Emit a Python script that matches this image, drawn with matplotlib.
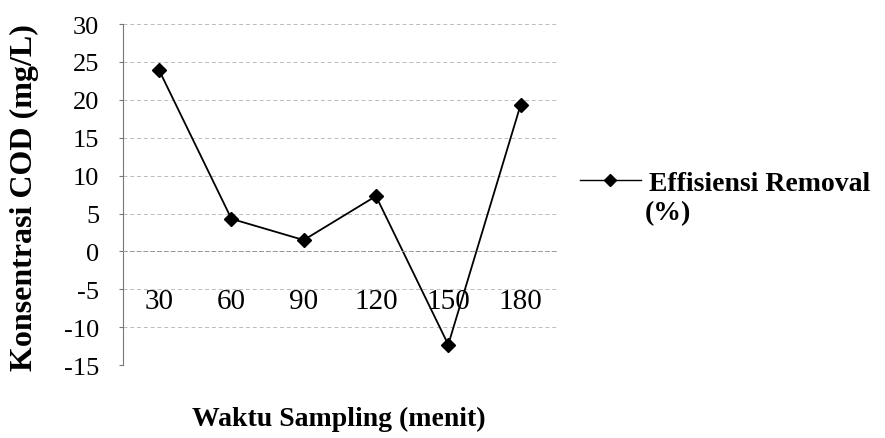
import numpy as np
import matplotlib.pyplot as plt

plt.rcParams['font.family'] = ['Liberation Serif', 'DejaVu Serif']

waktu = ['30', '60', '90', '120', '150', '180']
efisiensi = [23.9, 4.3, 1.5, 7.3, -12.3, 19.3]
yticks = [-15, -10, -5, 0, 5, 10, 15, 20, 25, 30]

fig = plt.figure(figsize=(8.85, 4.39), dpi=100)
ax = fig.add_axes([0.139, 0.166, 0.490, 0.777])

x = np.arange(len(waktu))
line, = ax.plot(x, efisiensi, color='black', lw=1.3, marker='D', ms=7,
                markerfacecolor='black', markeredgecolor='black')

# the category axis sits on y = 0
ax.spines['bottom'].set_position(('data', 0))

ax.set_xlim(-0.5, len(waktu) - 0.5)
ax.set_ylim(-15, 30)
ax.set_yticks(yticks)
ax.set_yticklabels([str(v) for v in yticks])
ax.set_xticks(x)
ax.set_xticklabels(waktu)

# horizontal gridlines, faint and dashed
ax.yaxis.grid(True, color='#bbbbbb', lw=0.7, ls=(0, (4, 3)))
ax.set_axisbelow(True)

for s in ['top', 'right']:
    ax.spines[s].set_visible(False)
ax.spines['left'].set_color('#777777')
ax.spines['left'].set_linewidth(0.8)
ax.spines['bottom'].set_color('#999999')
ax.spines['bottom'].set_linewidth(0.7)
ax.spines['bottom'].set_linestyle((0, (4, 3)))

ax.tick_params(axis='y', length=3, color='#777777', pad=14, labelsize=19)
ax.tick_params(axis='x', length=0, pad=26, labelsize=21)

fig.text(0.028, 0.55, 'Konsentrasi COD (mg/L)', rotation=90, fontsize=23,
         fontweight='bold', ha='center', va='center')
fig.text(0.383, 0.045, 'Waktu Sampling (menit)', fontsize=20,
         fontweight='bold', ha='center', va='center')

leg = fig.legend([line], ['Effisiensi Removal'], loc='center left',
                 bbox_to_anchor=(0.655, 1 - 184 / 439), frameon=False,
                 prop={'size': 20, 'weight': 'bold'}, handlelength=2.2,
                 handletextpad=0.3, borderpad=0, borderaxespad=0)
for h in leg.legend_handles:
    h.set_markersize(6)
    h.set_linewidth(1)
fig.text(0.729, 1 - 214 / 439, '(%)', fontsize=20, fontweight='bold',
         ha='left', va='center')

fig.savefig('out.png', dpi=100)
